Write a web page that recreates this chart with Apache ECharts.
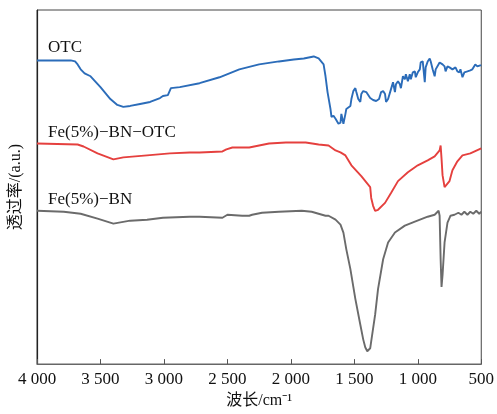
<!DOCTYPE html>
<html>
<head>
<meta charset="utf-8">
<script src="https://cdn.jsdelivr.net/npm/echarts@6/dist/echarts.min.js"></script>
<style>
    html, body { margin: 0; padding: 0; background: #fff; }
    #chart { width: 497px; height: 414px; }
</style>
</head>
<body>
<div id="chart"></div>
<script>
// 波数 (cm-1) 与透过率 (a.u.)
var otc = [
    [4000, 307], [3734, 307], [3700, 306], [3680, 303], [3656, 298], [3625, 294], [3578, 291],
    [3500, 280], [3422, 268], [3367, 262], [3320, 260], [3266, 261], [3188, 263],
    [3109, 265], [3031, 269], [3008, 271], [2969, 272], [2945, 279], [2875, 280],
    [2719, 284], [2562, 290], [2406, 298], [2250, 303], [2094, 306], [1977, 308],
    [1898, 309], [1820, 311], [1781, 309], [1742, 303], [1727, 291], [1711, 275],
    [1688, 258], [1680, 250], [1664, 251], [1648, 248], [1641, 250], [1625, 243],
    [1609, 244], [1602, 253], [1586, 243], [1570, 253], [1563, 258], [1531, 261],
    [1523, 268], [1508, 276], [1492, 279], [1484, 275], [1469, 268], [1453, 265],
    [1445, 273], [1430, 276], [1406, 275], [1375, 269], [1352, 267], [1328, 266],
    [1305, 268], [1289, 275], [1273, 276], [1258, 273], [1250, 265], [1234, 268],
    [1219, 270], [1211, 278], [1195, 285], [1180, 275], [1172, 283], [1156, 286],
    [1141, 283], [1133, 279], [1117, 291], [1102, 288], [1094, 293], [1078, 286],
    [1063, 293], [1055, 288], [1039, 295], [1023, 296], [1016, 290], [1000, 295],
    [984, 298], [977, 305], [961, 306], [945, 285], [938, 300], [922, 306],
    [906, 309], [898, 306], [883, 298], [867, 291], [859, 298], [844, 300],
    [828, 305], [820, 306], [805, 303], [789, 301], [781, 296], [766, 301],
    [750, 300], [742, 300], [727, 298], [703, 300], [688, 296], [672, 295],
    [664, 298], [648, 290], [633, 295], [625, 295], [609, 296], [594, 296],
    [586, 297], [570, 298], [555, 300], [547, 303], [531, 301], [516, 301],
    [508, 302], [500, 302]
];
var feBnOtc = [
    [4000, 223], [3680, 222], [3633, 220], [3523, 213], [3398, 207], [3320, 209],
    [3133, 211], [2953, 213], [2797, 214], [2719, 214], [2539, 215], [2508, 217],
    [2461, 219], [2328, 219], [2250, 221], [2172, 223], [2039, 224], [1883, 224],
    [1781, 222], [1703, 221], [1648, 216], [1609, 214], [1602, 215], [1570, 211],
    [1523, 201], [1445, 190], [1375, 179], [1367, 168], [1352, 160], [1336, 155],
    [1325, 154], [1313, 156], [1258, 163], [1211, 173], [1156, 185], [1078, 194],
    [1000, 201], [922, 206], [867, 210], [828, 216], [820, 221], [813, 208],
    [805, 191], [789, 179], [781, 178], [750, 185], [727, 196], [688, 205],
    [648, 211], [586, 213], [500, 218]
];
var feBn = [
    [4000, 155], [3789, 154], [3656, 152], [3523, 147], [3398, 142], [3266, 145],
    [3133, 146], [3008, 148], [2797, 149], [2719, 149], [2539, 148], [2500, 151],
    [2383, 150], [2328, 150], [2305, 151], [2227, 153], [2094, 154], [1914, 155],
    [1836, 154], [1727, 150], [1703, 150], [1648, 146], [1609, 141], [1586, 133],
    [1563, 116], [1531, 96], [1492, 66], [1453, 40], [1430, 25], [1414, 17],
    [1398, 13], [1383, 13], [1375, 16], [1367, 23], [1336, 50], [1313, 76],
    [1273, 106], [1234, 123], [1180, 133], [1102, 140], [1023, 144], [922, 149],
    [867, 151], [836, 155], [828, 150], [820, 106], [813, 78], [805, 90],
    [789, 123], [766, 143], [742, 150], [711, 151], [680, 153], [656, 151],
    [633, 154], [609, 151], [586, 154], [563, 152], [539, 155], [516, 152],
    [500, 154]
];
var names = ['OTC', 'Fe(5%)\u2212BN\u2212OTC', 'Fe(5%)\u2212BN'];
var colors = ['#2b6cb9', '#e5403e', '#6b6b6b'];

var serif = '"Liberation Serif", "Noto Sans CJK SC", serif';
var myChart = echarts.init(document.getElementById('chart'));

function fmt(v) {
    if (v >= 1000) {
        var r = String(v % 1000);
        while (r.length < 3) r = '0' + r;
        return Math.floor(v / 1000) + ' ' + r;
    }
    return String(v);
}

function line(name, data, color) {
    return {
        name: name,
        type: 'line',
        data: data,
        showSymbol: false,
        symbol: 'none',
        lineStyle: { color: color, width: 1.9 },
        z: 3
    };
}

var option = {
    animation: false,
    grid: {
        left: 36, right: 13, top: 10, bottom: 46,
        show: true,
        borderColor: '#444',
        borderWidth: 1
    },
    xAxis: {
        type: 'value',
        inverse: true,
        min: 500,
        max: 4000,
        interval: 500,
        name: '波长/cm\u207B\u00B9',
        nameLocation: 'middle',
        nameGap: 28,
        nameTextStyle: { fontFamily: serif, fontSize: 16, color: '#111' },
        axisLine: { lineStyle: { color: '#666', width: 1.2 } },
        axisTick: { inside: true, length: 5, lineStyle: { color: '#555' } },
        axisLabel: {
            fontFamily: serif, fontSize: 17, color: '#111', margin: 7,
            formatter: fmt
        },
        splitLine: { show: false }
    },
    yAxis: {
        type: 'value',
        min: 0,
        max: 358,
        name: '透过率/(a.u.)',
        nameLocation: 'middle',
        nameGap: 13,
        nameTextStyle: { fontFamily: serif, fontSize: 16, color: '#111' },
        axisLine: { show: true, lineStyle: { color: '#222', width: 1.2 } },
        axisTick: { show: false },
        axisLabel: { show: false },
        splitLine: { show: false }
    },
    graphic: [
        { type: 'text', left: 48, top: 39, style: { text: names[0], font: '17px ' + serif, fill: '#111' } },
        { type: 'text', left: 48, top: 124, style: { text: names[1], font: '17px ' + serif, fill: '#111' } },
        { type: 'text', left: 48, top: 191, style: { text: names[2], font: '17px ' + serif, fill: '#111' } }
    ],
    series: [
        line(names[0], otc, colors[0]),
        line(names[1], feBnOtc, colors[1]),
        line(names[2], feBn, colors[2])
    ]
};
myChart.setOption(option);
</script>
</body>
</html>
